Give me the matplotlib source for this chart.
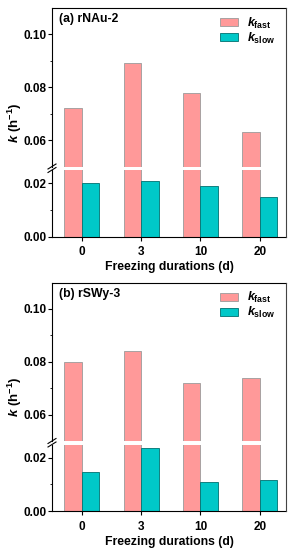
import numpy as np
import matplotlib
matplotlib.use("Agg")
import matplotlib.pyplot as plt
from matplotlib.lines import Line2D
from matplotlib.patches import Patch

plt.rcParams['font.family'] = ['Liberation Sans', 'DejaVu Sans']
plt.rcParams['font.weight'] = 'bold'
plt.rcParams['axes.labelweight'] = 'bold'
plt.rcParams['mathtext.fontset'] = 'custom'
plt.rcParams['mathtext.it'] = 'Liberation Sans:italic:bold'
plt.rcParams['mathtext.rm'] = 'Liberation Sans:bold'

# du lieu doc tu hinh
ngay = ["0", "3", "10", "20"]
k_fast_a = [0.072, 0.089, 0.078, 0.063]
k_slow_a = [0.020, 0.021, 0.019, 0.015]
k_fast_b = [0.080, 0.084, 0.072, 0.074]
k_slow_b = [0.0147, 0.0235, 0.011, 0.0117]
ten_mau = ["(a) rNAu-2", "(b) rSWy-3"]

mau_fast = "#FF9999"
mau_slow = "#00C8C8"

W, H = 291, 552
fig = plt.figure(figsize=(W / 100, H / 100), dpi=100)

x = np.arange(len(ngay))
w = 0.295
trai, phai = 52, 286


def ve_panel(top, hi_bot, lo_top, lo_bot, fast, slow, ten):
    ax_hi = fig.add_axes([trai / W, 1 - hi_bot / H, (phai - trai) / W, (hi_bot - top) / H])
    ax_lo = fig.add_axes([trai / W, 1 - lo_bot / H, (phai - trai) / W, (lo_bot - lo_top) / H])
    for ax in (ax_hi, ax_lo):
        ax.bar(x - w / 2, fast, w, color=mau_fast, edgecolor="#9a9a9a", linewidth=0.6)
        ax.bar(x + w / 2, slow, w, color=mau_slow, edgecolor="#007070", linewidth=0.6)
        ax.set_xlim(-0.5, 3.44)
        ax.spines['right'].set_visible(False)
        ax.tick_params(axis='y', direction='out', length=3, width=0.8, labelsize=8.5, pad=1)
        ax.tick_params(axis='y', which='minor', direction='out', length=1.8, width=0.6)
    ax_hi.set_ylim(0.05, 0.11)
    ax_lo.set_ylim(0, 0.025)
    ax_hi.set_yticks([0.06, 0.08, 0.10])
    ax_hi.set_yticks([0.07, 0.09], minor=True)
    ax_lo.set_yticks([0.00, 0.02])
    ax_lo.set_yticks([0.01], minor=True)
    ax_hi.yaxis.set_major_formatter(plt.FormatStrFormatter('%.2f'))
    ax_lo.yaxis.set_major_formatter(plt.FormatStrFormatter('%.2f'))
    ax_hi.spines['bottom'].set_visible(False)
    ax_lo.spines['top'].set_visible(False)
    ax_hi.set_xticks([])
    ax_lo.set_xticks(x)
    ax_lo.set_xticklabels(ngay)
    ax_lo.tick_params(axis='x', direction='out', length=3, width=0.8, labelsize=8.5, pad=4)
    ax_lo.set_xlabel("Freezing durations (d)", fontsize=8.8, labelpad=2)

    # truc phai lien tuc
    fig.add_artist(Line2D([phai / W, phai / W], [1 - top / H, 1 - lo_bot / H],
                          color="#444444", linewidth=0.8))
    # dau ngat truc
    for yy in (hi_bot, lo_top):
        fig.add_artist(Line2D([(trai - 4) / W, (trai + 4) / W],
                              [1 - (yy + 2.5) / H, 1 - (yy - 2.5) / H],
                              color="black", linewidth=0.8))

    ax_hi.text(0.03, 0.93, ten, transform=ax_hi.transAxes, fontsize=8.8,
               va='center', ha='left')
    hl = [Patch(facecolor=mau_fast, edgecolor="#9a9a9a", linewidth=0.6),
          Patch(facecolor=mau_slow, edgecolor="#007070", linewidth=0.6)]
    ax_hi.legend(hl, [r"$k_{\mathrm{fast}}$", r"$k_{\mathrm{slow}}$"], loc='upper right',
                 frameon=False, fontsize=9, handlelength=1.4, handleheight=0.6,
                 handletextpad=0.7, labelspacing=0.0, borderaxespad=0.2,
                 bbox_to_anchor=(0.985, 1.0))

    yc = 1 - (top + lo_bot) / 2 / H
    fig.text(6 / W, yc, r"$k$ (h$^{-1}$)", rotation=90, va='center', ha='left',
             fontsize=9.5)
    return ax_hi, ax_lo


ve_panel(8, 166.5, 170, 236.7, k_fast_a, k_slow_a, ten_mau[0])
ve_panel(282.5, 441, 444.5, 511, k_fast_b, k_slow_b, ten_mau[1])

fig.savefig("out.png", dpi=100)
